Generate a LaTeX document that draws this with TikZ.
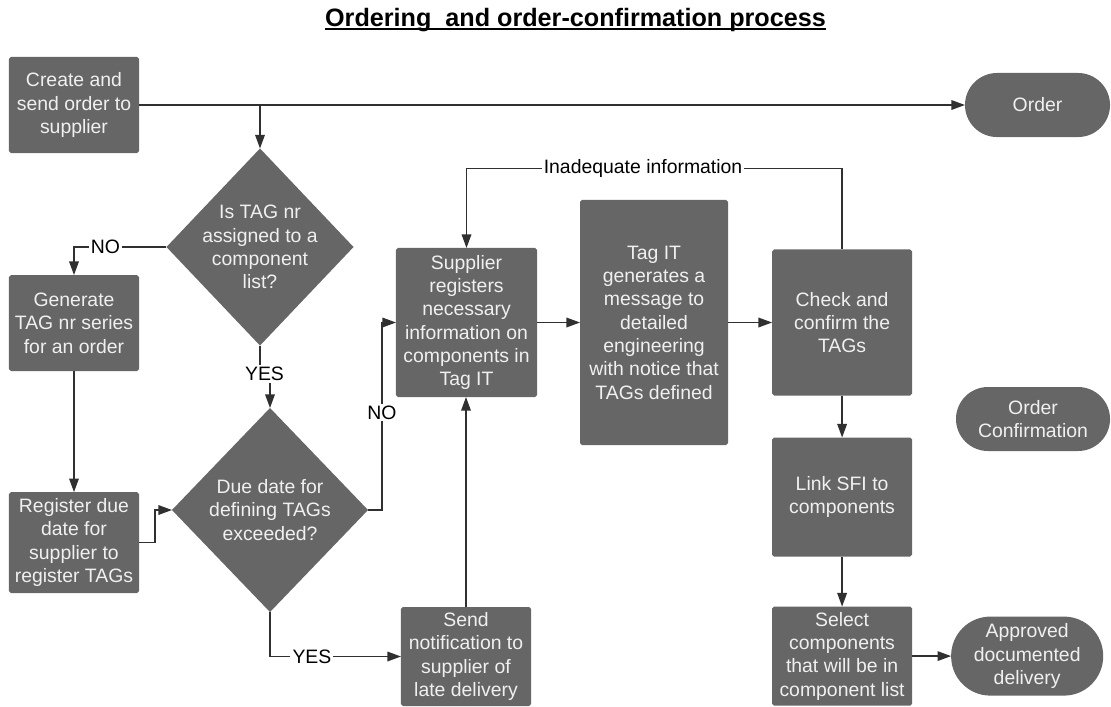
\documentclass[tikz,border=0pt]{standalone}
\usepackage{fontspec}
\setmainfont{Liberation Sans}
\usepackage{xcolor}
\definecolor{boxGrey}{HTML}{666666}
\definecolor{boxText}{HTML}{F0F0F0}
\definecolor{lineGrey}{HTML}{303030}
\usepackage{tikz}
\usetikzlibrary{arrows.meta}
\tikzset{arrow/.style = {> = {Triangle[length = 3.4mm, width = 2.4mm]}, draw = lineGrey, line width = 1pt}}
\usetikzlibrary{positioning}
\usetikzlibrary{calc}
\usetikzlibrary{shapes.geometric}
\newcommand{\boxfont}{\fontsize{13.8}{16.6}\selectfont}
\newcommand{\thickunder}[1]{\setbox0\hbox{#1}\rlap{\rule[-3pt]{\wd0}{1.3pt}}\box0}
\tikzset{
	process/.style = {rectangle, rounded corners = 1.4pt, fill = boxGrey, text = boxText, font = \boxfont, align = center, inner sep = 0pt, outer sep = 0pt},
	decision/.style = {diamond, fill = boxGrey, text = boxText, font = \boxfont, align = center, inner sep = -20pt, outer sep = 0pt},
	terminal/.style = {rectangle, rounded corners = 0.8cm, fill = boxGrey, text = boxText, font = \boxfont, align = center, inner sep = 0pt, outer sep = 0pt},
	flowlabel/.style = {fill = white, text = black, font = \boxfont, inner sep = 1.5pt}
}

\begin{document}
\begin{tikzpicture}[x = 0.025cm, y = -0.025cm]
	\useasboundingbox (0, 0) rectangle (1111, 706);

	%% Title
	\node[font = \fontsize{17.9}{21}\selectfont\bfseries, anchor = base] (title) at (575.5, 26) {\thickunder{Ordering\ \ and order-confirmation process}};

	%% Left column
	\node[process, minimum width = 3.25cm, minimum height = 2.4cm] (create) at (74, 105) {Create and\\send order to\\supplier};
	\node[process, minimum width = 3.25cm, minimum height = 2.4cm, below = 3.05cm of create] (generate) {Generate\\TAG nr series\\for an order};
	\node[process, minimum width = 3.25cm, minimum height = 2.525cm, below = 3.025cm of generate] (register) {Register due\\date for\\supplier to\\register TAGs};

	%% Decisions
	\node[decision, minimum width = 4.675cm, minimum height = 4.925cm] (assigned) at (260, 247) {Is TAG nr\\assigned to a\\component\\list?};
	\node[decision, minimum width = 4.9cm, minimum height = 5.1cm] (duedate) at (270, 510) {Due date for\\defining TAGs\\exceeded?};

	%% Supplier side
	\node[process, minimum width = 3.525cm, minimum height = 3.725cm] (supplier) at (466.5, 322.5) {Supplier\\registers\\necessary\\information on\\components in\\Tag IT};
	\node[process, minimum width = 3.25cm, minimum height = 2.475cm] (notify) at (466, 656.5) {Send\\notification to\\supplier of\\late delivery};
	\node[process, minimum width = 3.7cm, minimum height = 6.125cm, right = 1.075cm of supplier] (tagit) {Tag IT\\generates a\\message to\\detailed\\engineering\\with notice that\\TAGs defined};

	%% Confirmation column
	\node[process, minimum width = 3.5cm, minimum height = 3.65cm, right = 1.1cm of tagit] (check) {Check and\\confirm the\\TAGs};
	\node[process, minimum width = 3.5cm, minimum height = 2.975cm, below = 1.05cm of check] (link) {Link SFI to\\components};
	\node[process, minimum width = 3.5cm, minimum height = 2.475cm, below = 1.25cm of link] (select) {Select\\components\\that will be in\\component list};

	%% Terminals
	\node[terminal, minimum width = 3.625cm, minimum height = 1.6cm] (order) at (1037.5, 105) {Order};
	\node[terminal, minimum width = 3.85cm, minimum height = 1.6cm] (confirmation) at (1033, 419) {Order\\Confirmation};
	\node[terminal, rounded corners = 0.98cm, minimum width = 3.8cm, minimum height = 1.975cm, right = 0.975cm of select] (approved) {Approved\\documented\\delivery};

	%% Connectors
	\draw[arrow, ->] (create.east) -- (order.west);
	\draw[arrow, ->] (create.east -| assigned.north) -- (assigned.north);
	\draw[arrow, ->] (assigned.west) -| node[flowlabel, pos = 0.33] {NO} (generate.north);
	\draw[arrow, ->] (generate) -- (register);
	\coordinate (yesbend) at ($(assigned.south)!0.45!(duedate.north)$);
	\draw[arrow, ->] (assigned.south) |- (yesbend) node[flowlabel] {YES} -| (duedate.north);
	\draw[arrow, ->] (register.east) -- ++(16, 0) |- (duedate.west);
	\draw[arrow, ->] (duedate.east) -- ++(14, 0) |- node[flowlabel, pos = 0.26] {NO} (supplier.west);
	\draw[arrow, ->] (duedate.south) |- node[flowlabel, pos = 0.66] {YES} (notify.west);
	\draw[arrow, ->] (notify.north) -- (notify.north |- supplier.south);
	\draw[arrow, ->] (supplier.east) -- (tagit.west);
	\draw[arrow, ->] (tagit.east) -- (check.west);
	\draw[arrow, ->] (check.north) -- ++(0, -81) -| node[flowlabel, pos = 0.265] {Inadequate information} (supplier.north);
	\draw[arrow, ->] (check) -- (link);
	\draw[arrow, ->] (link) -- (select);
	\draw[arrow, ->] (select) -- (approved);

\end{tikzpicture}
\end{document}
